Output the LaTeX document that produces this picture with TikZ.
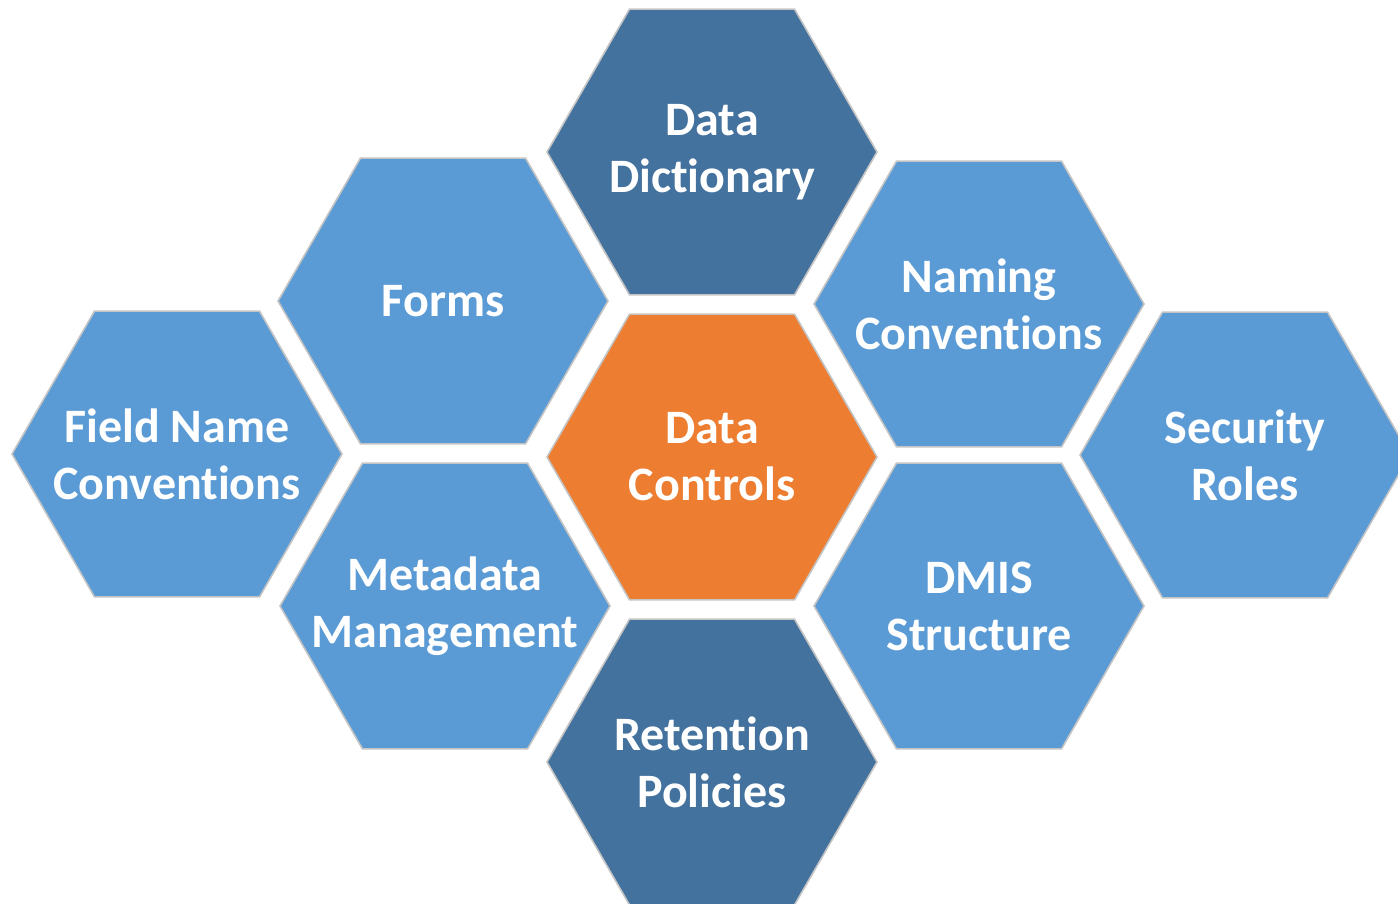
\documentclass[tikz,border=0pt]{standalone}
\usepackage{fontspec}
\setmainfont{Carlito}[Ligatures=NoCommon]
\usetikzlibrary{shapes.geometric}
\definecolor{hexlight}{HTML}{5B9BD5}
\definecolor{hexdark}{HTML}{44729E}
\definecolor{hexorange}{HTML}{ED7D31}
\definecolor{hexedge}{HTML}{C4C4C4}
\begin{document}
\begin{tikzpicture}[x=0.5pt, y=-0.5pt,
    hexcell/.style={regular polygon, regular polygon sides=6, minimum size=165pt,
        inner sep=0pt, draw=hexedge, line width=0.8pt},
    light/.style={hexcell, fill=hexlight},
    dark/.style={hexcell, fill=hexdark},
    core/.style={hexcell, fill=hexorange},
    hextext/.style={text=white, align=center, inner sep=0pt,
        font=\fontsize{24}{28.5}\selectfont\bfseries}]
    \useasboundingbox (0,0) rectangle (1398,904);

    % Middle column
    \node[dark] (dict) at (712,152) {};
    \node[core] (ctrl) at (712,457) {};
    \node[dark] (ret) at (712,762) {};

    % Left side
    \node[light] (forms) at (443,301) {};
    \node[light] (meta) at (445,606) {};
    \node[light] (field) at (177,454) {};

    % Right side
    \node[light] (naming) at (979,304) {};
    \node[light] (dmis) at (979,606) {};
    \node[light] (sec) at (1245,455) {};

    % Labels
    \node[hextext] (dict-t) at (dict) {Data\\Dictionary};
    \node[hextext] (ctrl-t) at (ctrl) {Data\\Controls};
    \node[hextext] (ret-t) at (ret) {Retention\\Policies};
    \node[hextext] (forms-t) at (forms) {Forms};
    \node[hextext] (meta-t) at (meta) {Metadata\\Management};
    \node[hextext] (field-t) at (field) {Field Name\\Conventions};
    \node[hextext] (naming-t) at (naming) {Naming\\Conventions};
    \node[hextext] (dmis-t) at (dmis) {DMIS\\Structure};
    \node[hextext] (sec-t) at (sec) {Security\\Roles};
\end{tikzpicture}
\end{document}
